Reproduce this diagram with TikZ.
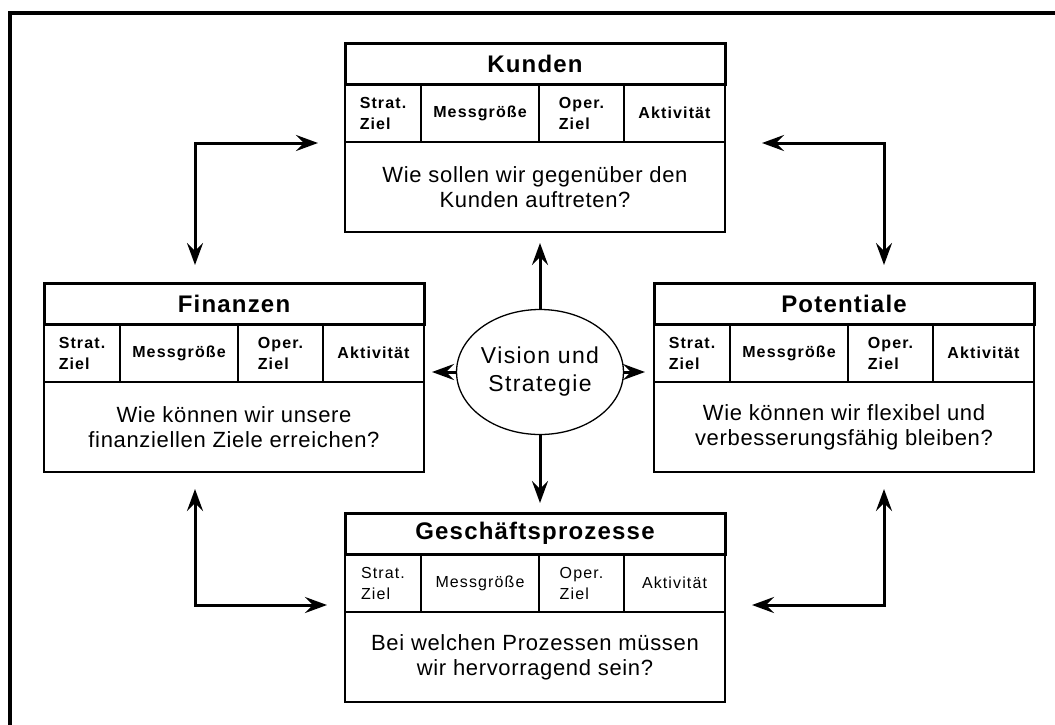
\documentclass[tikz,border=0pt]{standalone}
\usepackage{fontspec}
\setmainfont{Liberation Sans}
\newfontfamily\titlefont[LetterSpace=5]{Liberation Sans}
\newfontfamily\labelfont[LetterSpace=7]{Liberation Sans}
\newfontfamily\questfont[LetterSpace=3]{Liberation Sans}
\newfontfamily\visfont[LetterSpace=6]{Liberation Sans}
\usetikzlibrary{arrows.meta,shapes.geometric}

% One perspective of the scorecard: title bar, four column cells, question field
% #1 name, #2 x, #3 y (top left corner), #4 title, #5 question, #6 style of the column cells
\newcommand{\perspective}[6]{%
  \node[hdr, anchor=north west] (#1-h) at (#2,#3) {#4};
  \node[#6, minimum width=76pt, anchor=north west] (#1-c1) at (#1-h.south west) {Strat.\\Ziel};
  \node[#6, minimum width=118pt, anchor=north west] (#1-c2) at (#1-c1.north east) {Messgröße};
  \node[#6, minimum width=85pt, anchor=north west] (#1-c3) at (#1-c2.north east) {Oper.\\Ziel};
  \node[#6, minimum width=101pt, anchor=north west] (#1-c4) at (#1-c3.north east) {Aktivität};
  \node[body, anchor=north west] (#1-b) at (#1-c1.south west) {#5};
}

\begin{document}
\begin{tikzpicture}[x=1pt, y=-1pt,
  >={Stealth[length=22pt, width=16pt, inset=8pt]},
  hdr/.style={draw, line width=3pt, outer sep=0pt, minimum width=380pt, minimum height=41pt,
    inner sep=0pt, font=\titlefont\fontsize{24}{27}\selectfont\bfseries},
  cell/.style={draw, line width=1.3pt, outer sep=0pt, minimum height=58pt, inner sep=0pt,
    align=left, font=\labelfont\fontsize{16}{21}\selectfont},
  cellbold/.style={cell, font=\labelfont\fontsize{16}{21}\selectfont\bfseries},
  body/.style={draw, line width=1.3pt, outer sep=0pt, minimum width=380pt, minimum height=90pt,
    inner sep=0pt, align=center, font=\questfont\fontsize{22}{25}\selectfont},
  vision/.style={draw, ellipse, line width=1.3pt, minimum width=145pt, minimum height=125pt,
    inner sep=0pt, align=center, font=\visfont\fontsize{23}{28}\selectfont},
  arr/.style={line width=3pt, ->},
  dblarr/.style={line width=3pt, <->},
]
\useasboundingbox (0,0) rectangle (1055,724);

% frame along the top and left edge
\draw[line width=3.5pt] (10,730) -- (10,13) -- (1060,13);

\perspective{kun}{345}{43}{Kunden}{Wie sollen wir gegenüber den\\Kunden auftreten?}{cellbold}
\perspective{fin}{44}{283}{Finanzen}{Wie können wir unsere\\finanziellen Ziele erreichen?}{cellbold}
\perspective{pot}{654}{283}{Potentiale}{Wie können wir flexibel und\\verbesserungsfähig bleiben?}{cellbold}
\perspective{ges}{345}{513}{Geschäftsprozesse}{Bei welchen Prozessen müssen\\wir hervorragend sein?}{cell}

\node[vision] (vis) at (540,372) {Vision und\\Strategie};

% arrows from the centre to the four perspectives
\draw[arr, shorten >=11pt] (vis.north) -- (vis.north |- kun-b.south);
\draw[arr, shorten >=10pt] (vis.south) -- (vis.south |- ges-h.north);
\draw[arr, shorten >=8pt] (vis.west) -- (vis.west -| fin-b.east);
\draw[arr, shorten >=9pt] (vis.east) -- (vis.east -| pot-b.west);

% corner links between neighbouring perspectives
\coordinate (tl) at (195,143);
\coordinate (tr) at (884,143);
\coordinate (bl) at (195,605);
\coordinate (br) at (884,605);
\draw[dblarr, shorten <=18pt, shorten >=27pt] (tl |- fin-h.north) -- (tl) -- (tl -| kun-b.west);
\draw[dblarr, shorten <=18pt, shorten >=37pt] (tr |- pot-h.north) -- (tr) -- (tr -| kun-b.east);
\draw[dblarr, shorten <=17pt, shorten >=18pt] (bl |- fin-b.south) -- (bl) -- (bl -| ges-b.west);
\draw[dblarr, shorten <=17pt, shorten >=27pt] (br |- pot-b.south) -- (br) -- (br -| ges-b.east);
\end{tikzpicture}
\end{document}
